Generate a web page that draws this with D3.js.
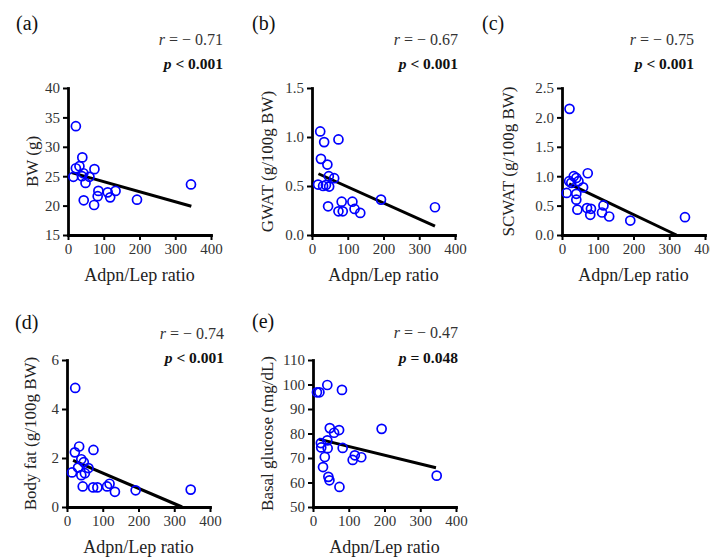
<!DOCTYPE html>
<html>
<head>
<meta charset="utf-8">
<style>
    body { margin: 0; background: #fff; }
    text { font-family: "Liberation Serif", serif; }
</style>
</head>
<body>
<div id="vis"></div>

<script src="https://d3js.org/d3.v7.min.js"></script>

<script>
    // ---- data ----
    // x = Adpn/Lep ratio, y = the panel measure
    let xA = [15, 22, 22, 32, 40, 39, 43, 49, 44, 60, 74, 73, 83, 85, 111, 118, 133, 193, 344];
    let yA = [24.9, 33.5, 26.35, 26.7, 28.2, 25.0, 25.5, 23.85, 20.9, 24.9, 26.2, 20.1, 21.6, 22.5, 22.25, 21.4, 22.5, 21.0, 23.6];
    let fitA = [[10, 25.6], [345, 19.9]];

    let xB = [23, 34, 74, 25, 43, 17, 31, 39, 48, 47, 62, 45, 74, 86, 83, 113, 119, 135, 193, 344];
    let yB = [1.057, 0.948, 0.975, 0.777, 0.719, 0.515, 0.50, 0.51, 0.494, 0.60, 0.58, 0.293, 0.242, 0.242, 0.34, 0.34, 0.266, 0.225, 0.361, 0.283];
    let fitB = [[18, 0.625], [344, 0.09]];

    let xC = [21, 13, 20, 26, 33, 40, 46, 40, 40, 43, 59, 72, 70, 81, 79, 112, 116, 132, 191, 344];
    let yC = [2.145, 0.715, 0.915, 0.887, 1.0, 0.97, 0.915, 0.70, 0.60, 0.43, 0.81, 1.05, 0.458, 0.446, 0.343, 0.383, 0.503, 0.315, 0.246, 0.303];
    let fitC = [[20, 0.87], [320, 0.0]];

    let xD = [23, 14, 22, 34, 31, 40, 40, 47, 44, 50, 60, 74, 73, 85, 112, 119, 134, 192, 346];
    let yD = [4.86, 1.41, 2.23, 2.47, 1.61, 1.95, 1.30, 1.83, 0.84, 1.38, 1.59, 2.33, 0.80, 0.80, 0.84, 0.95, 0.62, 0.68, 0.71];
    let fitD = [[17, 1.9], [322, 0.0]];

    let xE = [11, 18, 40, 81, 47, 59, 73, 192, 22, 23, 40, 41, 83, 33, 28, 43, 46, 74, 111, 117, 135, 346];
    let yE = [96.8, 96.8, 99.8, 97.8, 82.2, 80.3, 81.4, 81.9, 76.1, 74.3, 77.2, 74.0, 74.1, 70.4, 66.3, 62.3, 60.9, 58.2, 69.2, 71.1, 70.3, 62.8];
    let fitE = [[16, 77.7], [344, 66.0]];

    let xTicks = [0, 100, 200, 300, 400];
    let yTicksA = [15, 20, 25, 30, 35, 40];
    let yTicksB = [0, 0.5, 1.0, 1.5];
    let yTicksC = [0, 0.5, 1.0, 1.5, 2.0, 2.5];
    let yTicksD = [0, 2, 4, 6];
    let yTicksE = [50, 60, 70, 80, 90, 100, 110];

    let xTitle = "Adpn/Lep ratio";

    // ---- panels ----
    let panels = [
        {tag: "(a)", x: xA, y: yA, fit: fitA, yTicks: yTicksA, fmt: d3.format("d"),
         yTitle: "BW (g)", r: "0.71", p: "< 0.001",
         left: 68, top: 88, tagX: 16, tagY: 30, statX: 223, rY: 45, pY: 69, titleX: 32},
        {tag: "(b)", x: xB, y: yB, fit: fitB, yTicks: yTicksB, fmt: d3.format(".1f"),
         yTitle: "GWAT (g/100g BW)", r: "0.67", p: "< 0.001",
         left: 312, top: 88, tagX: 252, tagY: 30, statX: 458, rY: 45, pY: 69, titleX: 267},
        {tag: "(c)", x: xC, y: yC, fit: fitC, yTicks: yTicksC, fmt: d3.format(".1f"),
         yTitle: "SCWAT (g/100g BW)", r: "0.75", p: "< 0.001",
         left: 562, top: 88, tagX: 482, tagY: 30, statX: 694, rY: 45, pY: 69, titleX: 508},
        {tag: "(d)", x: xD, y: yD, fit: fitD, yTicks: yTicksD, fmt: d3.format("d"),
         yTitle: "Body fat (g/100g BW)", r: "0.74", p: "< 0.001",
         left: 67, top: 360, tagX: 15, tagY: 329, statX: 224, rY: 339, pY: 363, titleX: 30},
        {tag: "(e)", x: xE, y: yE, fit: fitE, yTicks: yTicksE, fmt: d3.format("d"),
         yTitle: "Basal glucose (mg/dL)", r: "0.47", p: "= 0.048",
         left: 313, top: 360, tagX: 252, tagY: 328, statX: 458, rY: 338, pY: 363, titleX: 267}
    ];

    let width = 143, height = 147;

    let svg = d3.select("#vis")
        .append("svg")
        .attr("width", 710)
        .attr("height", 558);

    panels.forEach(function (pn) {
        let x = d3.scaleLinear().domain([0, 400]).range([pn.left, pn.left + width]);
        let yDom = d3.extent(pn.yTicks);
        let y = d3.scaleLinear().domain(yDom).range([pn.top + height, pn.top]);

        // panel letter
        svg.append("text")
            .attr("x", pn.tagX)
            .attr("y", pn.tagY)
            .style("font-size", "20px")
            .style("fill", "#111")
            .text(pn.tag);

        // statistics
        let rt = svg.append("text")
            .attr("x", pn.statX)
            .attr("y", pn.rY)
            .attr("text-anchor", "end")
            .style("font-size", "16px")
            .style("fill", "#333");
        rt.append("tspan").style("font-style", "italic").text("r");
        rt.append("tspan").text(" = \u2212 " + pn.r);

        let pt = svg.append("text")
            .attr("x", pn.statX)
            .attr("y", pn.pY)
            .attr("text-anchor", "end")
            .style("font-size", "15.5px")
            .style("font-weight", "bold")
            .style("fill", "#111");
        pt.append("tspan").style("font-style", "italic").text("p");
        pt.append("tspan").text(" " + pn.p);

        // axes
        let xAxis = d3.axisBottom(x).tickValues(xTicks).tickSizeInner(5).tickSizeOuter(0).tickPadding(3);
        let yAxis = d3.axisLeft(y).tickValues(pn.yTicks).tickFormat(pn.fmt).tickSizeInner(5).tickSizeOuter(0).tickPadding(3);

        let gx = svg.append("g")
            .attr("transform", "translate(0," + (pn.top + height) + ")")
            .call(xAxis);
        let gy = svg.append("g")
            .attr("transform", "translate(" + pn.left + ",0)")
            .call(yAxis);

        [gx, gy].forEach(function (g) {
            g.select(".domain").attr("stroke", "#000").attr("stroke-width", 2.8).attr("stroke-linecap", "square");
            g.selectAll(".tick line").attr("stroke", "#000").attr("stroke-width", 2);
            g.selectAll(".tick text")
                .style("font-family", "\"Liberation Serif\", serif")
                .style("font-size", "15px")
                .attr("fill", "#333");
        });

        // axis titles
        svg.append("text")
            .attr("x", pn.left + width / 2)
            .attr("y", pn.top + height + 46)
            .attr("text-anchor", "middle")
            .style("font-size", "18px")
            .style("fill", "#222")
            .text(xTitle);

        svg.append("text")
            .attr("transform", "translate(" + pn.titleX + "," + (pn.top + height / 2) + ") rotate(-90)")
            .attr("dy", "0.35em")
            .attr("text-anchor", "middle")
            .style("font-size", "17px")
            .style("fill", "#222")
            .text(pn.yTitle);

        // regression line
        svg.append("line")
            .attr("x1", x(pn.fit[0][0]))
            .attr("y1", y(pn.fit[0][1]))
            .attr("x2", x(pn.fit[1][0]))
            .attr("y2", y(pn.fit[1][1]))
            .attr("stroke", "#000")
            .attr("stroke-width", 3);

        // points
        svg.append("g")
            .selectAll("circle")
            .data(d3.zip(pn.x, pn.y))
            .enter()
            .append("circle")
            .attr("cx", function (d) { return x(d[0]); })
            .attr("cy", function (d) { return y(d[1]); })
            .attr("r", 4.5)
            .attr("fill", "none")
            .attr("stroke", "#0000ff")
            .attr("stroke-width", 1.7);
    });
</script>
</body>
</html>
